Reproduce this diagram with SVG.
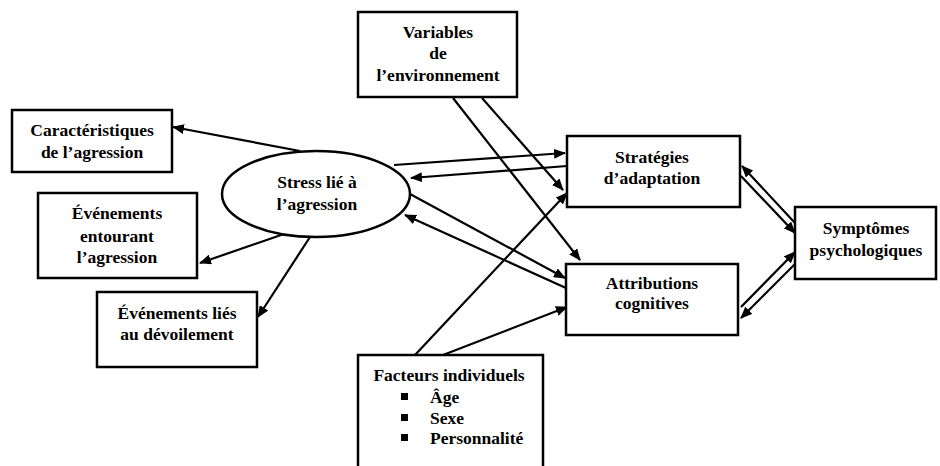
<svg xmlns="http://www.w3.org/2000/svg" width="940" height="466" viewBox="0 0 940 466">
<defs>
<marker id="ah" viewBox="0 0 12 10" refX="11" refY="5" markerWidth="12" markerHeight="10" markerUnits="userSpaceOnUse" orient="auto">
<path d="M0,0 L12,5 L0,10 Z" fill="#000"/>
</marker>
<style>
.box{fill:#fff;stroke:#000;stroke-width:2.5}
.t{font-family:"Liberation Serif","Times New Roman",serif;font-weight:bold;font-size:17.5px;fill:#000;text-anchor:middle}
.tl{font-family:"Liberation Serif","Times New Roman",serif;font-weight:bold;font-size:17.5px;fill:#000}
.c line{stroke:#000;stroke-width:2.2;marker-end:url(#ah)}
</style>
</defs>
<rect width="940" height="466" fill="#fff"/>
<g class="c" id="connectors">
<line x1="300" y1="151" x2="173" y2="127"/>
<line x1="284" y1="234" x2="200" y2="263"/>
<line x1="310" y1="237" x2="258" y2="317"/>
<line x1="394" y1="165" x2="565" y2="153"/>
<line x1="567" y1="166" x2="411" y2="178"/>
<line x1="410" y1="194" x2="565" y2="278"/>
<line x1="566" y1="288" x2="405" y2="215"/>
<line x1="482" y1="98" x2="563" y2="190"/>
<line x1="453" y1="98" x2="580" y2="260"/>
<line x1="415" y1="355" x2="567" y2="193"/>
<line x1="443" y1="355" x2="567" y2="307"/>
<line x1="741" y1="176" x2="795" y2="233"/>
<line x1="795" y1="223" x2="742" y2="166"/>
<line x1="741" y1="307" x2="795" y2="252"/>
<line x1="795" y1="264" x2="741" y2="318"/>
</g>
<g id="caracteristiques">
<rect class="box" x="12" y="110" width="160" height="62"/>
<text class="t" x="92" y="136">Caractéristiques</text>
<text class="t" x="92" y="158">de l’agression</text>
</g>
<g id="stress">
<ellipse class="box" cx="316" cy="194" rx="94" ry="43"/>
<text class="t" x="317" y="188">Stress lié à</text>
<text class="t" x="317" y="210">l’agression</text>
</g>
<g id="entourant">
<rect class="box" x="38" y="193" width="159" height="85"/>
<text class="t" x="117" y="219">Événements</text>
<text class="t" x="117" y="242">entourant</text>
<text class="t" x="117" y="263">l’agression</text>
</g>
<g id="devoilement">
<rect class="box" x="97" y="292" width="160" height="75"/>
<text class="t" x="177" y="319">Événements liés</text>
<text class="t" x="177" y="340">au dévoilement</text>
</g>
<g id="variables">
<rect class="box" x="358" y="12" width="159" height="85"/>
<text class="t" x="438" y="38">Variables</text>
<text class="t" x="438" y="59">de</text>
<text class="t" x="438" y="81">l’environnement</text>
</g>
<g id="strategies">
<rect class="box" x="567" y="136" width="173" height="71"/>
<text class="t" x="652" y="163">Stratégies</text>
<text class="t" x="652" y="184">d’adaptation</text>
</g>
<g id="attributions">
<rect class="box" x="566" y="264" width="172" height="71"/>
<text class="t" x="652" y="289">Attributions</text>
<text class="t" x="652" y="309">cognitives</text>
</g>
<g id="symptomes">
<rect class="box" x="795" y="207" width="141" height="72"/>
<text class="t" x="866" y="234">Symptômes</text>
<text class="t" x="866" y="256">psychologiques</text>
</g>
<g id="facteurs">
<rect class="box" x="358" y="355" width="185" height="120"/>
<text class="t" x="449" y="381">Facteurs individuels</text>
<rect x="401" y="393" width="7" height="7" fill="#000"/>
<rect x="401" y="414" width="7" height="7" fill="#000"/>
<rect x="401" y="434" width="7" height="7" fill="#000"/>
<text class="tl" x="430" y="403">Âge</text>
<text class="tl" x="430" y="424">Sexe</text>
<text class="tl" x="430" y="444">Personnalité</text>
</g>
</svg>
